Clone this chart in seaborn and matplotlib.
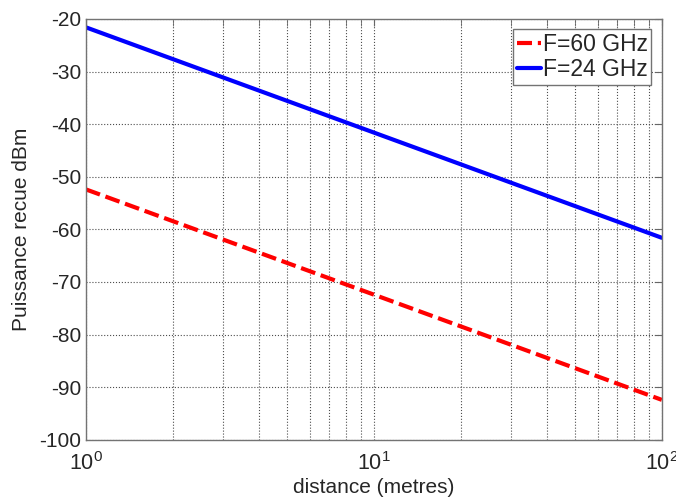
import numpy as np
import pandas as pd
import matplotlib
matplotlib.use('Agg')
import matplotlib.pyplot as plt
import seaborn as sns
from matplotlib.ticker import LogLocator, FixedLocator

# values (dBm at 1, 10, 100 m)
distance = [1, 10, 100]
p_60ghz = [-52.4, -72.4, -92.4]
p_24ghz = [-21.6, -41.6, -61.6]
labels = ['F=60 GHz', 'F=24 GHz']

df = pd.DataFrame({
    'distance': distance * 2,
    'puissance': p_60ghz + p_24ghz,
    'freq': [labels[0]] * 3 + [labels[1]] * 3,
})

sns.set_style('white')
plt.rcParams['font.family'] = ['Liberation Sans', 'DejaVu Sans']
plt.rcParams['mathtext.fontset'] = 'custom'
plt.rcParams['mathtext.rm'] = 'Liberation Sans'
plt.rcParams['axes.unicode_minus'] = False

fig, ax = plt.subplots(figsize=(6.76, 4.97), dpi=100)
sns.lineplot(data=df, x='distance', y='puissance', hue='freq', style='freq',
             palette={labels[0]: 'red', labels[1]: 'blue'},
             dashes={labels[0]: (3.6, 1.4), labels[1]: ''},
             linewidth=3, ax=ax)

ax.set_xscale('log')
ax.set_xlim(1, 100)
ax.set_ylim(-100, -20)
ax.set_yticks(np.arange(-100, -19, 10))
ax.xaxis.set_major_locator(FixedLocator([1, 10, 100]))
ax.xaxis.set_minor_locator(LogLocator(base=10, subs=np.arange(2, 10)))
ax.set_xticklabels(['$10^{0}$', '$10^{1}$', '$10^{2}$'])

ax.grid(True, which='major', color='0.3', linestyle=':', linewidth=0.8)
ax.grid(True, which='minor', axis='x', color='0.3', linestyle=':', linewidth=0.8)
ax.tick_params(axis='both', which='both', direction='in', top=True, right=True,
               labelsize=15, length=5, color='0.4')
ax.tick_params(axis='x', which='major', pad=9, labelsize=15.5)
for s in ax.spines.values():
    s.set_color('0.45')
    s.set_linewidth(1)

ax.set_xlabel('distance (metres)', fontsize=15)
ax.xaxis.set_label_coords(0.5, -0.09)
ax.set_ylabel('Puissance recue dBm', fontsize=15)
ax.yaxis.set_label_coords(-0.095, 0.5)

leg = ax.legend(loc='upper right', fontsize=16.5, handlelength=1.05, handletextpad=0.1,
                borderpad=0.15, labelspacing=0.12, fancybox=False, framealpha=1,
                borderaxespad=0.45)
leg.get_frame().set_edgecolor('0.45')
for line in leg.get_lines():
    line.set_linewidth(3)

fig.subplots_adjust(left=0.127, right=0.979, top=0.962, bottom=0.115)
fig.savefig('out.png', dpi=100)
